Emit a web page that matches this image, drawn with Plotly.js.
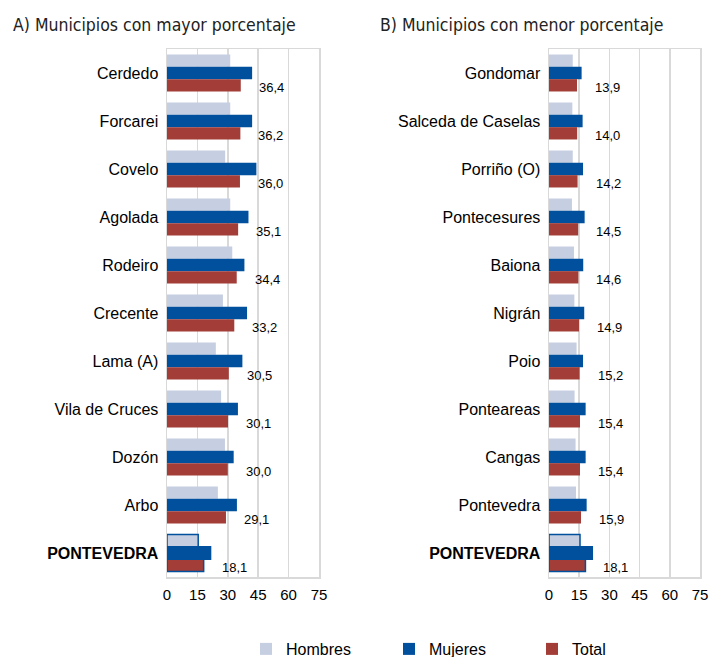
<!DOCTYPE html>
<html>
<head>
<meta charset="utf-8">
<script src="https://cdn.plot.ly/plotly-3.0.1.min.js"></script>
<style>html,body{margin:0;padding:0;background:#fff;}#chart{width:709px;height:657px;}</style>
</head>
<body>
<div id="chart"></div>
<script>
// Panel A: municipios con mayor porcentaje
const catsA = ["Cerdedo","Forcarei","Covelo","Agolada","Rodeiro","Crecente","Lama (A)","Vila de Cruces","Dozón","Arbo","<b>PONTEVEDRA</b>"];
const hombresA = [31.2,31.2,28.7,31.2,32.2,27.6,24.1,26.7,28.6,25.1,15.4];
const mujeresA = [42.0,42.0,44.1,40.2,38.2,39.5,37.2,35.0,32.9,34.5,21.5];
const totalA   = [36.4,36.2,36.0,35.1,34.4,33.2,30.5,30.1,30.0,29.1,18.1];

// Panel B: municipios con menor porcentaje
const catsB = ["Gondomar","Salceda de Caselas","Porriño (O)","Pontecesures","Baiona","Nigrán","Poio","Ponteareas","Cangas","Pontevedra","<b>PONTEVEDRA</b>"];
const hombresB = [11.8,11.6,11.8,11.4,12.4,12.6,13.7,12.7,13.2,13.4,15.4];
const mujeresB = [16.2,16.7,16.9,17.7,17.0,17.5,16.9,18.2,18.2,18.7,21.5];
const totalB   = [13.9,14.0,14.2,14.5,14.6,14.9,15.2,15.4,15.4,15.9,18.1];

const xTicks = [0,15,30,45,60,75];
const seriesNames = ["Hombres","Mujeres","Total"];
const colors = ["#c6cee1","#01509d","#a23d37"];
const titleA = "A) Municipios con mayor porcentaje";
const titleB = "B) Municipios con menor porcentaje";

const W = 709, H = 657;
const FONT = "Liberation Sans, Arial, sans-serif";
const NARROW = "Liberation Sans Narrow, DejaVu Sans Condensed, Arial Narrow, sans-serif";

function lineWidths(cats){ return cats.map(c => c.indexOf("PONTEVEDRA")>=0 ? 1.5 : 0); }

function makeTraces(cats, h, m, t, xa, ya, showLegend){
  const vals = [h, m, t];
  return vals.map((v,i) => ({
    type: "bar", orientation: "h",
    x: v, y: cats, name: seriesNames[i],
    xaxis: xa, yaxis: ya,
    marker: {color: colors[i], line: {color: "#01509d", width: lineWidths(cats)}},
    showlegend: showLegend, legendgroup: seriesNames[i],
    hoverinfo: "skip"
  }));
}

const fmt = v => v.toFixed(1).replace(".", ",");

function makeLabels(cats, t, xr, yr){
  return cats.map((c,i) => ({
    x: t[i], y: c, xref: xr, yref: yr,
    text: fmt(t[i]), showarrow: false,
    xanchor: "left", yanchor: "middle",
    xshift: 16, yshift: -14,
    font: {family: FONT, size: 13, color: "#000"}
  }));
}

const data = [
  ...makeTraces(catsA, hombresA, mujeresA, totalA, "x", "y", true),
  ...makeTraces(catsB, hombresB, mujeresB, totalB, "x2", "y2", false)
];

const px = v => v / W;
const py = v => 1 - v / H;

const xaxisBase = {
  range: [0, 75], tickvals: xTicks, ticktext: xTicks.map(String),
  showgrid: true, gridcolor: "#d9d9d9", gridwidth: 1.5,
  zeroline: false, showline: true, linecolor: "#d9d9d9", linewidth: 1.5, mirror: true,
  ticks: "", ticklabelstandoff: 3, tickfont: {family: FONT, size: 15, color: "#000"},
  automargin: false, fixedrange: true
};
const yaxisBase = {
  type: "category", autorange: "reversed",
  showgrid: false, zeroline: false, showline: true, linecolor: "#d9d9d9", linewidth: 1.5, mirror: true,
  ticks: "", ticklabelstandoff: 4, tickfont: {family: FONT, size: 16, color: "#000"},
  automargin: false, fixedrange: true
};

const layout = {
  width: W, height: H,
  margin: {l: 0, r: 0, t: 0, b: 0, autoexpand: false},
  paper_bgcolor: "#fff", plot_bgcolor: "#fff",
  barmode: "group", bargap: 0.23, bargroupgap: 0,
  xaxis: Object.assign({}, xaxisBase, {domain: [px(167), px(319)], anchor: "y"}),
  yaxis: Object.assign({}, yaxisBase, {domain: [py(577), py(49)], anchor: "x"}),
  xaxis2: Object.assign({}, xaxisBase, {domain: [px(549), px(700)], anchor: "y2"}),
  yaxis2: Object.assign({}, yaxisBase, {domain: [py(577), py(49)], anchor: "x2"}),
  showlegend: true,
  legend: {
    orientation: "h",
    x: px(246), xanchor: "left", y: py(649), yanchor: "middle",
    font: {family: FONT, size: 16, color: "#000"},
    entrywidth: 98, entrywidthmode: "pixels", traceorder: "normal",
    bgcolor: "rgba(0,0,0,0)"
  },
  annotations: [
    ...makeLabels(catsA, totalA, "x", "y"),
    ...makeLabels(catsB, totalB, "x2", "y2"),
    {text: titleA, x: px(11), y: py(25), xref: "paper", yref: "paper", xanchor: "left", yanchor: "middle", showarrow: false, font: {family: NARROW, size: 17.5, color: "#222"}},
    {text: titleB, x: px(378), y: py(25), xref: "paper", yref: "paper", xanchor: "left", yanchor: "middle", showarrow: false, font: {family: NARROW, size: 17.5, color: "#222"}}
  ]
};

Plotly.newPlot("chart", data, layout, {displayModeBar: false, staticPlot: true});
</script>
</body>
</html>
